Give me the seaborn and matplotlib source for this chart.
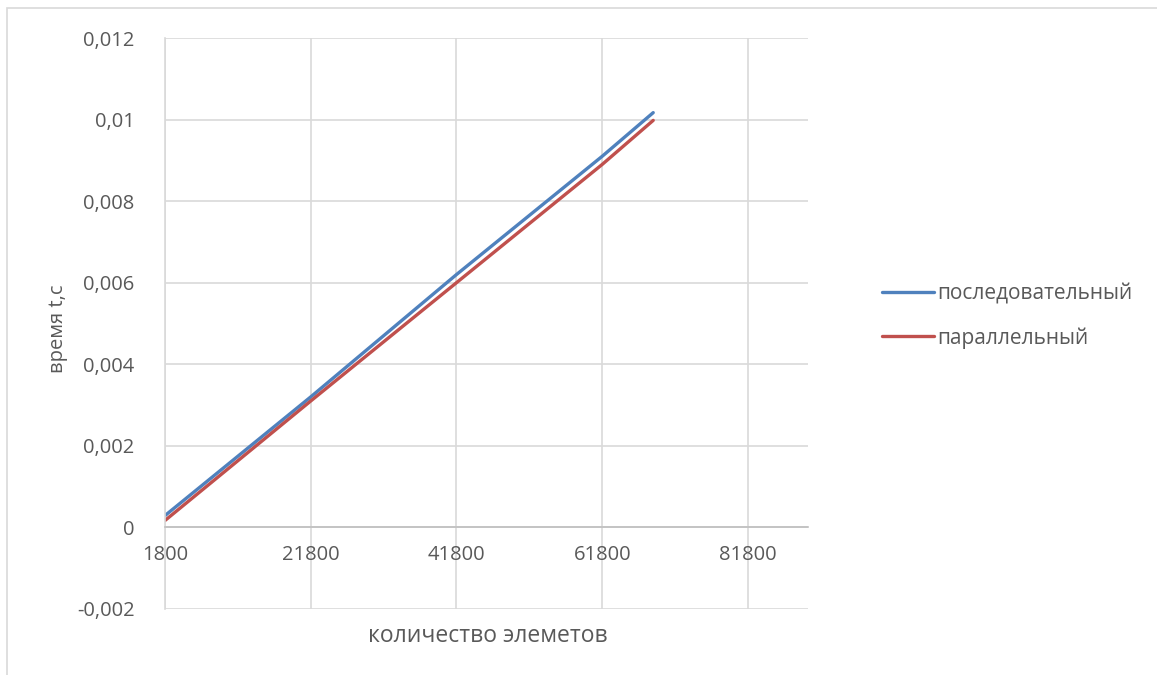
import pandas as pd
import matplotlib
matplotlib.use("Agg")
import matplotlib.pyplot as plt
import matplotlib.ticker as mticker
from matplotlib.patches import Rectangle
import seaborn as sns

# Data
n_elements = [1800, 21800, 41800, 61800, 68800]
t_sequential = [0.00029, 0.0032, 0.0062, 0.0091, 0.01017]
t_parallel = [0.00017, 0.0031, 0.0060, 0.0089, 0.00998]
series_names = ["последовательный", "параллельный"]
x_ticks = [1800, 21800, 41800, 61800, 81800]
y_ticks = [-0.002, 0, 0.002, 0.004, 0.006, 0.008, 0.01, 0.012]

df = pd.DataFrame({
    "n": n_elements * 2,
    "t": t_sequential + t_parallel,
    "series": [series_names[0]] * len(n_elements) + [series_names[1]] * len(n_elements),
})

sns.set_style("white")
plt.rcParams["font.family"] = ["Open Sans", "DejaVu Sans"]

grey_text = "#595959"
grid_col = "#D9D9D9"

fig = plt.figure(figsize=(11.57, 6.75), dpi=100)
ax = fig.add_axes([0.1426, 0.0978, 0.5555, 0.8459])

sns.lineplot(data=df, x="n", y="t", hue="series",
             palette=["#4F81BD", "#C0504D"], linewidth=2.4,
             sort=False, ax=ax, legend=False)

ax.set_xlim(1800, 90000)
ax.set_ylim(-0.002, 0.012)
ax.set_xticks(x_ticks)
ax.set_yticks(y_ticks)
ax.yaxis.set_major_formatter(mticker.FuncFormatter(lambda v, p: f"{v:g}".replace(".", ",")))
ax.xaxis.set_major_formatter(mticker.FuncFormatter(lambda v, p: f"{int(v)}"))
ax.grid(True, color=grid_col, linewidth=1.2)
ax.set_axisbelow(True)

for side in ["top", "right"]:
    ax.spines[side].set_visible(False)
ax.spines["left"].set_color(grid_col)
ax.spines["left"].set_linewidth(1.2)
ax.spines["bottom"].set_position(("data", 0))
ax.spines["bottom"].set_color("#BFBFBF")
ax.spines["bottom"].set_linewidth(1.2)
ax.tick_params(axis="both", length=0, labelsize=14.5, labelcolor=grey_text)
ax.tick_params(axis="x", pad=13)
ax.tick_params(axis="y", pad=22)

ax.set_xlabel("количество элеметов", fontsize=16.5, color=grey_text)
ax.xaxis.set_label_coords(0.503, -0.026)
ax.set_ylabel("время t,с", fontsize=14.5, color=grey_text)
ax.yaxis.set_label_coords(-0.151, 0.49)

handles = [plt.Line2D([], [], color=c, linewidth=2.4) for c in ["#4F81BD", "#C0504D"]]
leg = fig.legend(handles, series_names, loc="center left",
                 bbox_to_anchor=(0.746, 0.532), frameon=False,
                 fontsize=15, handlelength=2.5, handletextpad=0.15,
                 labelspacing=1.1, labelcolor=grey_text)

# outer chart border
fig.patches.append(Rectangle((0.006, -0.01), 1.1, 0.998, transform=fig.transFigure,
                             fill=False, edgecolor=grid_col, linewidth=1.2))

fig.savefig("out.png", dpi=100)
